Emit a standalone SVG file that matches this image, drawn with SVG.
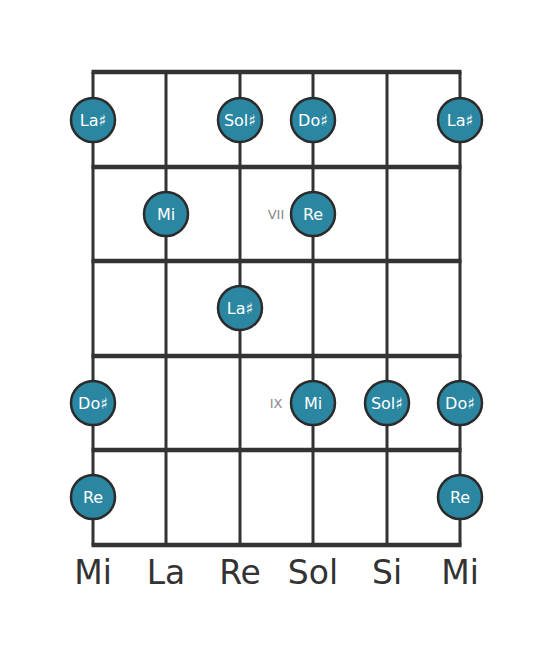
<svg xmlns="http://www.w3.org/2000/svg" width="553" height="656" viewBox="0 0 553 656">
<style>
.str{stroke:#333;stroke-width:3;fill:none}
.fret{stroke:#333;stroke-width:4.5;fill:none}
.n circle{fill:#2a86a1;stroke:#2b2b2b;stroke-width:2.5}
.n text{fill:#fff;font-family:"DejaVu Sans",sans-serif;font-size:16px;text-anchor:middle;dominant-baseline:central}
.lbl{fill:#333;font-family:"DejaVu Sans",sans-serif;font-size:33px;text-anchor:middle}
.pos{fill:#888;font-family:"DejaVu Sans",sans-serif;font-size:13px;text-anchor:middle;dominant-baseline:central}
</style>
<rect width="553" height="656" fill="#fff"/>
<g id="connectors">
<line class="str" x1="93" y1="72" x2="93" y2="545"/>
<line class="str" x1="166" y1="72" x2="166" y2="545"/>
<line class="str" x1="240" y1="72" x2="240" y2="545"/>
<line class="str" x1="313" y1="72" x2="313" y2="545"/>
<line class="str" x1="387" y1="72" x2="387" y2="545"/>
<line class="str" x1="460" y1="72" x2="460" y2="545"/>
<line class="fret" x1="91.5" y1="72" x2="461.5" y2="72"/>
<line class="fret" x1="91.5" y1="167" x2="461.5" y2="167"/>
<line class="fret" x1="91.5" y1="261" x2="461.5" y2="261"/>
<line class="fret" x1="91.5" y1="356" x2="461.5" y2="356"/>
<line class="fret" x1="91.5" y1="450" x2="461.5" y2="450"/>
<line class="fret" x1="91.5" y1="545" x2="461.5" y2="545"/>
</g>
<text class="pos" x="276" y="214">VII</text>
<text class="pos" x="276" y="403">IX</text>
<g id="n1" class="n"><circle cx="93" cy="120" r="22"/><text x="93" y="120">La♯</text></g>
<g id="n2" class="n"><circle cx="240" cy="120" r="22"/><text x="240" y="120">Sol♯</text></g>
<g id="n3" class="n"><circle cx="313" cy="120" r="22"/><text x="313" y="120">Do♯</text></g>
<g id="n4" class="n"><circle cx="460" cy="120" r="22"/><text x="460" y="120">La♯</text></g>
<g id="n5" class="n"><circle cx="166" cy="214" r="22"/><text x="166" y="214">Mi</text></g>
<g id="n6" class="n"><circle cx="313" cy="214" r="22"/><text x="313" y="214">Re</text></g>
<g id="n7" class="n"><circle cx="240" cy="308" r="22"/><text x="240" y="308">La♯</text></g>
<g id="n8" class="n"><circle cx="93" cy="403" r="22"/><text x="93" y="403">Do♯</text></g>
<g id="n9" class="n"><circle cx="313" cy="403" r="22"/><text x="313" y="403">Mi</text></g>
<g id="n10" class="n"><circle cx="387" cy="403" r="22"/><text x="387" y="403">Sol♯</text></g>
<g id="n11" class="n"><circle cx="460" cy="403" r="22"/><text x="460" y="403">Do♯</text></g>
<g id="n12" class="n"><circle cx="93" cy="497" r="22"/><text x="93" y="497">Re</text></g>
<g id="n13" class="n"><circle cx="460" cy="497" r="22"/><text x="460" y="497">Re</text></g>
<g id="labels">
<text class="lbl" x="93" y="584">Mi</text>
<text class="lbl" x="166" y="584">La</text>
<text class="lbl" x="240" y="584">Re</text>
<text class="lbl" x="313" y="584">Sol</text>
<text class="lbl" x="387" y="584">Si</text>
<text class="lbl" x="460" y="584">Mi</text>
</g>
</svg>
